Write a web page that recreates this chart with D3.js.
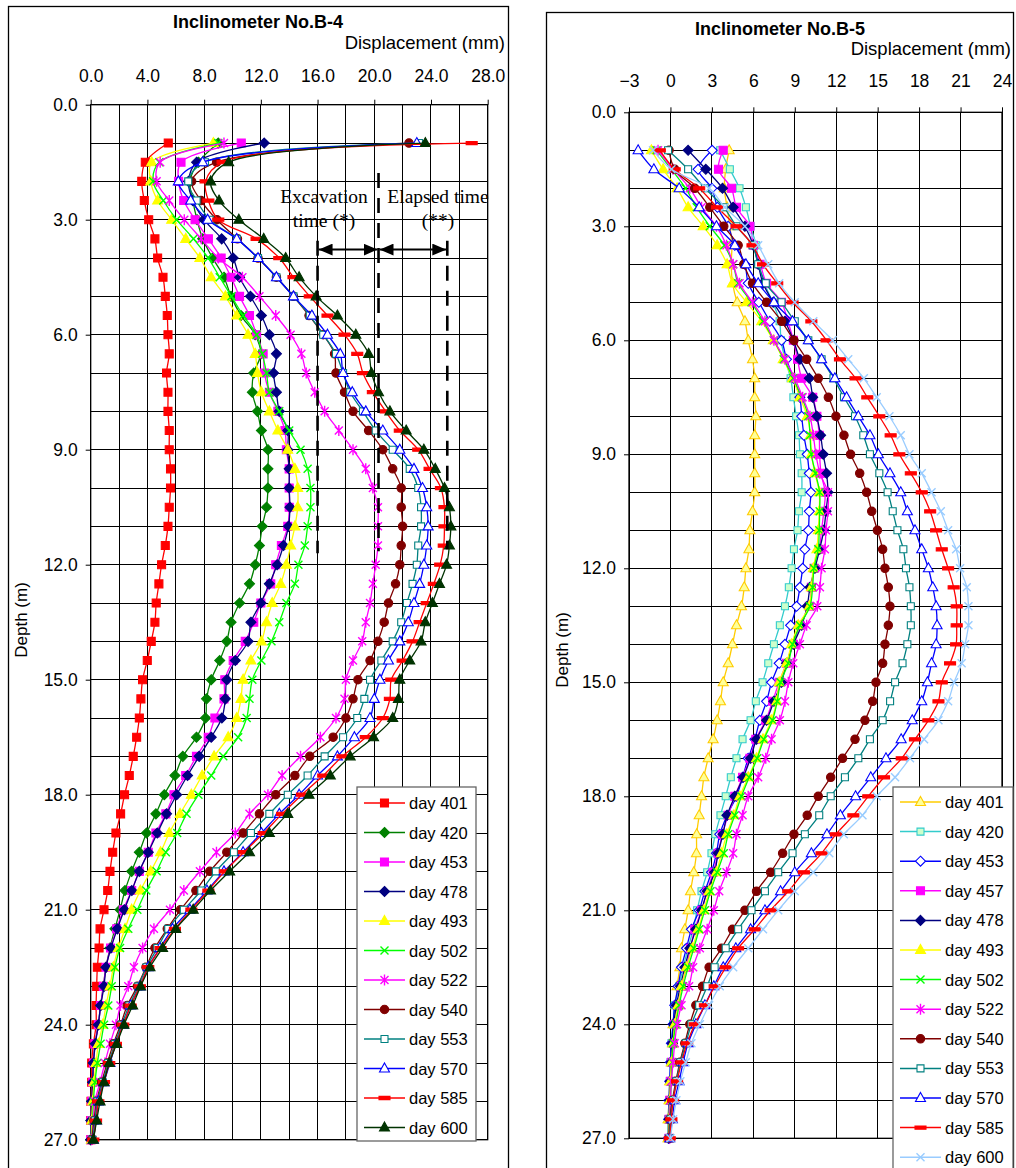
<!DOCTYPE html>
<html lang="en">
<head>
<meta charset="UTF-8">
<title>Inclinometer B-4 / B-5</title>
<script src="https://d3js.org/d3.v7.min.js"></script>
<style>
body{margin:0;background:#fff}
svg{display:block;font-family:"Liberation Sans",Arial,sans-serif}
.tick text{font-size:17.5px;fill:#000}
.tick line{stroke:#000}
.lg text{font-size:16.5px;fill:#000}
</style>
</head>
<body>
<script>
// depth of every reading (m)
var depths = [
  1,1.5,2,2.5,3,3.5,4,4.5,5,5.5,
  6,6.5,7,7.5,8,8.5,9,9.5,10,10.5,
  11,11.5,12,12.5,13,13.5,14,14.5,15,15.5,
  16,16.5,17,17.5,18,18.5,19,19.5,20,20.5,
  21,21.5,22,22.5,23,23.5,24,24.5,25,25.5,
  26,26.5,27];

// ── Inclinometer B-4 ──
var b4Days = ['day 401','day 420','day 453','day 478','day 493','day 502','day 522','day 540','day 553','day 570','day 585','day 600'];
var b4XTicks = [0,4,8,12,16,20,24,28];
var b4YTicks = [0,3,6,9,12,15,18,21,24,27];

var b4_401 = [5.47,3.85,3.6,3.78,4.09,4.53,4.72,5.1,5.26,5.4,
  5.45,5.54,5.35,5.45,5.45,5.54,5.54,5.63,5.63,5.54,
  5.45,5.26,5.0,4.81,4.62,4.53,4.27,3.99,3.66,3.54,
  3.43,3.24,3.0,2.72,2.39,2.11,1.78,1.55,1.36,1.2,
  0.94,0.66,0.59,0.47,0.42,0.38,0.38,0.19,0.07,0.07,
  0.02,0,0];
var b4_420 = [9.0,7.6,7.0,7.2,7.5,7.9,8.6,9.4,9.9,10.6,
  11.6,12.0,11.5,11.4,11.76,12.04,12.5,12.5,12.5,12.4,
  12.1,11.9,11.6,11.2,10.5,9.9,9.6,9.1,8.5,8.17,
  8.1,7.46,6.5,5.94,5.19,4.6,3.94,3.43,2.89,2.42,
  2.07,1.71,1.36,1.08,0.89,0.7,0.54,0.3,0.19,0.14,
  0.07,0.02,0];
var b4_453 = [10.62,6.37,6.2,6.56,7.36,8.3,9.2,9.9,10.5,11.2,
  11.7,12.16,12.25,12.6,13.2,13.7,13.8,14.0,14.0,14.0,
  13.9,13.45,13.05,12.7,12.0,11.5,10.9,10.05,9.46,9.4,
  8.76,8.29,7.46,6.7,5.87,5.3,4.6,4.06,3.43,2.89,
  2.3,1.83,1.4,1.08,0.89,0.7,0.54,0.3,0.19,0.14,
  0.07,0.02,0];
var b4_478 = [12.24,7.47,6.9,7.2,7.99,9.24,10.05,10.5,11.27,12.04,
  12.6,13.1,12.9,13.1,13.3,13.9,13.9,14.0,14.0,14.05,
  13.95,13.6,13.15,12.6,12.0,11.3,11.1,10.2,9.6,9.5,
  9.25,8.5,7.65,6.83,6.06,5.35,4.7,4.06,3.43,2.9,
  2.37,1.88,1.43,1.08,0.94,0.7,0.54,0.33,0.19,0.14,
  0.07,0.02,0];
var b4_493 = [8.65,4.3,4.23,4.72,5.71,6.7,7.7,8.5,9.5,10.3,
  11.1,11.6,11.76,12.04,12.6,13.2,13.9,14.4,14.6,14.6,
  14.4,14.1,13.8,13.4,12.8,12.4,12.04,11.3,10.75,10.6,
  10.3,9.7,8.7,7.86,7.1,6.3,5.54,4.93,4.23,3.5,
  2.89,2.42,1.95,1.6,1.36,1.08,0.85,0.54,0.38,0.23,
  0.14,0.07,0.05];
var b4_502 = [9.0,4.84,4.4,5.12,6.06,7.25,8.29,9.1,9.93,10.75,
  11.7,12.1,12.4,12.6,13.3,14.0,14.8,15.3,15.5,15.5,
  15.3,15.1,14.65,14.4,13.8,13.3,12.75,12.04,11.4,11.2,
  11.0,10.4,9.35,8.5,7.6,6.76,6.1,5.3,4.65,3.92,
  3.29,2.65,2.07,1.71,1.48,1.24,0.94,0.7,0.47,0.3,
  0.19,0.14,0.07];
var b4_522 = [9.4,4.9,4.65,5.54,6.6,7.8,9.0,10.7,11.9,13.05,
  14.1,14.86,15.2,15.8,16.5,17.5,18.5,19.4,19.9,20.26,
  20.26,20.26,20.1,19.9,19.7,19.4,19.15,18.5,18.0,17.9,
  17.3,16.2,14.8,13.5,12.5,11.2,10.2,8.87,7.7,6.57,
  5.59,4.46,3.66,3.05,2.65,2.1,1.78,1.36,1.0,0.66,
  0.3,0.19,0.07];
var b4_540 = [22.45,8.88,7.12,7.78,8.9,10.35,11.8,13.1,14.3,15.4,
  16.4,17.2,17.3,17.9,18.5,19.6,20.6,21.3,21.9,21.9,
  22.0,21.9,21.8,21.5,21.0,20.7,20.26,19.7,18.85,18.5,
  18.0,17.1,15.45,14.4,13.05,11.9,10.75,9.6,8.4,7.42,
  6.34,5.4,4.53,3.9,3.29,2.58,2.11,1.6,1.17,0.77,
  0.42,0.23,0.09];
var b4_553 = [23.15,8.06,6.88,7.47,8.4,10.3,11.8,13.1,14.3,15.45,
  16.4,17.3,17.8,18.3,19.2,20.1,21.3,22.5,23.1,23.3,
  23.3,23.1,23.0,22.7,22.3,21.9,21.3,20.5,19.7,19.3,
  18.8,17.8,16.5,15.3,13.9,12.6,11.3,10.1,8.83,7.8,
  6.57,5.47,4.7,3.94,3.36,2.72,2.18,1.71,1.24,0.85,
  0.47,0.3,0.14];
var b4_570 = [23.0,7.9,6.18,7.05,8.25,10.3,11.8,13.1,14.3,15.6,
  16.7,17.6,17.8,18.45,19.4,20.6,21.8,22.8,23.4,23.7,
  23.8,23.7,23.5,23.2,22.8,22.4,21.8,21.0,20.4,20.0,
  19.7,18.6,17.4,16.0,14.7,13.3,12.04,10.75,9.4,8.2,
  7.0,5.77,4.88,4.06,3.47,2.82,2.3,1.78,1.36,0.94,
  0.54,0.38,0.19];
var b4_585 = [26.87,9.3,8.1,8.3,9.0,11.7,13.3,14.3,15.45,16.7,
  17.9,18.8,19.2,19.9,20.8,21.8,23.1,23.9,24.7,24.95,
  24.95,24.9,24.65,24.2,23.7,23.2,22.7,22.0,21.2,21.1,
  20.6,19.4,17.75,16.4,14.9,13.5,12.2,10.8,9.46,8.3,
  7.1,5.94,4.93,4.06,3.47,2.82,2.3,1.78,1.31,0.94,
  0.54,0.38,0.19];
var b4_600 = [23.6,9.73,8.46,9.05,10.45,12.2,13.75,14.7,15.9,17.4,
  18.7,19.6,19.8,20.3,21.1,22.25,23.5,24.3,24.95,25.3,
  25.4,25.3,25.1,24.6,24.1,23.6,23.3,22.5,21.8,21.7,
  21.3,19.95,18.3,16.9,15.4,13.9,12.6,11.2,9.8,8.45,
  7.23,6.0,5.07,4.18,3.52,2.96,2.35,1.83,1.31,0.94,
  0.66,0.42,0.19];

// ── Inclinometer B-5 ──
var b5Days = ['day 401','day 420','day 453','day 457','day 478','day 493','day 502','day 522','day 540','day 553','day 570','day 585','day 600'];
var b5XTicks = [-3,0,3,6,9,12,15,18,21,24];
var b5YTicks = [0,3,6,9,12,15,18,21,24,27];

var b5_401 = [4.25,4.0,3.9,4.1,4.3,4.45,4.4,4.5,4.83,5.39,
  5.63,5.94,6.1,6.1,6.18,6.1,6.1,6.1,6.1,5.94,
  5.75,5.68,5.46,5.34,5.14,4.78,4.49,4.18,3.82,3.62,
  3.38,3.09,2.73,2.42,2.25,2.08,1.9,1.88,1.69,1.45,
  1.28,1.04,0.8,0.68,0.48,0.39,0.19,0.14,0.07,-0.05,
  -0.1,-0.17,-0.17];
var b5_420 = [3.6,4.3,5.0,5.46,5.8,6.2,6.4,6.8,7.4,7.9,
  8.0,8.3,8.7,8.9,9.1,9.3,9.37,9.5,9.5,9.3,
  9.2,8.94,8.77,8.57,8.29,7.92,7.49,7.08,6.67,6.18,
  5.8,5.22,4.78,4.37,4.0,3.62,3.25,2.97,2.66,2.25,
  1.93,1.64,1.28,0.92,0.63,0.31,0.19,0.07,0,-0.05,
  -0.1,-0.17,-0.17];
var b5_453 = [3.02,2.0,3.0,3.4,4.18,4.66,5.39,5.63,6.4,7.2,
  8.04,8.4,8.9,9.37,9.5,9.66,9.9,10.05,10.17,10.05,
  9.98,9.73,9.57,9.37,9.13,8.7,8.29,7.87,7.32,6.96,
  6.47,6.11,5.63,5.22,4.78,4.1,3.57,3.33,2.97,2.49,
  2.08,1.52,1.16,0.8,0.56,0.31,0.19,0.07,0,-0.05,
  -0.1,-0.12,-0.15];
var b5_457 = [3.82,3.48,4.42,4.78,5.75,6.0,6.5,6.96,8.04,8.5,
  8.9,9.2,9.5,10.3,10.6,10.77,10.8,10.9,11.2,11.1,
  10.94,10.77,10.4,10.2,10.05,9.37,8.9,8.4,7.87,7.39,
  6.9,6.18,5.75,5.22,4.66,4.18,3.75,3.45,3.09,2.66,
  2.25,1.76,1.45,1.16,0.8,0.56,0.31,0.19,0.07,0,
  -0.05,-0.1,-0.1];
var b5_478 = [1.28,2.56,3.77,4.54,5.39,6.0,6.35,6.7,7.44,8.29,
  8.9,9.37,10.05,10.3,10.6,10.87,11.06,11.3,11.4,11.26,
  11.1,10.8,10.46,10.1,9.9,9.5,8.9,8.4,8.04,7.49,
  6.96,6.23,5.8,5.27,4.66,4.1,3.8,3.45,3.2,2.66,
  2.25,1.84,1.4,1.04,0.72,0.43,0.24,0.14,0.07,0,
  -0.05,-0.1,-0.1];
var b5_493 = [-1.38,-0.53,0.48,1.28,2.37,3.38,4.1,4.49,5.5,6.6,
  7.44,8.16,8.84,9.37,9.9,10.14,10.2,10.46,10.77,10.77,
  10.7,10.6,10.34,10.2,10.05,9.25,8.77,8.4,7.87,7.7,
  7.3,6.7,6.23,5.63,5.02,4.59,4.08,3.7,3.33,2.8,
  2.42,2.0,1.59,1.16,0.8,0.56,0.31,0.19,0.07,0,
  -0.05,-0.1,-0.1];
var b5_502 = [-1.0,0.07,1.1,1.9,2.85,3.9,4.54,4.9,5.87,6.7,
  7.49,8.2,8.89,9.5,9.98,10.1,10.2,10.5,10.8,10.8,
  10.77,10.7,10.39,10.29,10.1,9.37,8.84,8.53,7.97,7.73,
  7.39,6.76,6.28,5.7,5.14,4.66,4.18,3.86,3.38,2.9,
  2.49,2.08,1.69,1.28,0.92,0.63,0.39,0.19,0.14,0.07,
  0,-0.05,-0.05];
var b5_522 = [-0.9,0.19,1.4,2.25,3.33,4.06,4.54,5.0,5.94,6.84,
  7.49,8.29,9.0,9.57,10.1,10.34,10.53,10.82,11.4,11.4,
  11.26,11.18,10.94,10.82,10.63,9.86,9.37,8.89,8.53,8.29,
  7.92,7.32,6.9,6.35,5.63,5.22,4.78,4.54,4.06,3.53,
  3.14,2.66,2.13,1.64,1.35,0.8,0.48,0.31,0.19,0.07,
  0,-0.05,-0.05];
var b5_540 = [-0.1,0.31,1.76,2.85,3.86,4.9,5.31,5.94,6.96,8.04,
  8.94,9.86,10.7,11.43,11.98,12.56,13.04,13.7,14.2,14.57,
  14.98,15.36,15.53,15.77,15.89,15.77,15.53,15.36,14.88,14.64,
  14.08,13.36,12.46,11.6,10.7,9.9,8.94,8.12,7.25,6.23,
  5.39,4.49,3.7,2.8,2.32,1.84,1.4,1.04,0.68,0.39,
  0.14,-0.05,-0.1];
var b5_553 = [-0.17,1.28,2.5,3.86,4.78,5.94,6.35,6.9,8.04,9.0,
  9.98,10.94,11.8,12.56,13.36,13.96,14.44,15.12,15.72,16.09,
  16.43,16.86,17.05,17.3,17.4,17.4,17.15,16.8,16.26,15.9,
  15.36,14.44,13.6,12.63,11.6,10.77,9.73,8.84,7.8,6.84,
  5.87,4.9,4.0,3.2,2.66,2.08,1.52,1.11,0.72,0.43,
  0.19,0,-0.05];
var b5_570 = [-2.34,-1.2,0.63,2.08,3.33,4.66,5.46,6.35,7.49,8.84,
  9.98,10.94,11.9,12.75,13.6,14.44,15.05,15.89,16.67,17.15,
  17.7,18.19,18.67,18.99,19.23,19.3,19.23,18.9,18.6,18.19,
  17.5,16.7,15.6,14.5,13.4,12.3,11.33,10.2,9.0,7.97,
  6.84,5.8,4.73,3.82,3.14,2.49,1.84,1.28,0.92,0.63,
  0.31,0.14,-0.05];
var b5_585 = [-0.77,0.31,2.08,3.38,4.78,5.94,6.7,7.73,8.84,10.2,
  11.3,12.27,13.4,14.25,15.12,15.94,16.57,17.4,18.19,18.8,
  19.23,19.64,20.1,20.5,20.72,20.72,20.68,20.24,19.64,19.4,
  18.67,17.7,16.74,15.46,14.32,13.24,11.98,10.94,9.66,8.53,
  7.25,6.1,4.9,4.0,3.2,2.49,1.76,1.21,0.8,0.48,
  0.19,0.07,-0.05];
var b5_600 = [-1.26,0.07,2.8,3.94,5.39,6.35,7.08,7.87,9.0,10.34,
  11.74,12.87,14.0,14.93,15.85,16.67,17.3,18.19,18.9,19.57,
  20.1,20.68,20.97,21.45,21.57,21.57,21.33,21.08,20.53,20.1,
  19.4,18.36,17.34,16.26,14.93,13.9,12.55,11.5,10.34,9.0,
  7.8,6.7,5.63,4.54,3.57,2.8,2.13,1.52,1.11,0.72,
  0.43,0.19,0];

// annotation on B-4 (displacement mm / depth m)
var excavLine = [16, 20.3];
var elapsedLine = [20.3, 25.15];

// ── styles ──
var b4Styles = [
  {c:'#ff0000', m:'square',   f:'#ff0000'},
  {c:'#008000', m:'diamond',  f:'#008000'},
  {c:'#ff00ff', m:'square',   f:'#ff00ff'},
  {c:'#000080', m:'diamond',  f:'#000080'},
  {c:'#ffff00', m:'triangle', f:'#ffff00'},
  {c:'#00ff00', m:'x'},
  {c:'#ff00ff', m:'star'},
  {c:'#800000', m:'circle',   f:'#800000'},
  {c:'#008080', m:'osquare',  f:'#fff'},
  {c:'#0000ff', m:'triangle', f:'#fff'},
  {c:'#ff0000', m:'dash',     f:'#ff0000'},
  {c:'#003300', m:'triangle', f:'#003300'}
];
var b5Styles = [
  {c:'#ffcc00', m:'triangle', f:'#ffff99'},
  {c:'#33cccc', m:'osquare',  f:'#ccffcc'},
  {c:'#0000ff', m:'diamond',  f:'#fff'},
  {c:'#ff00ff', m:'square',   f:'#ff00ff'},
  {c:'#000080', m:'diamond',  f:'#000080'},
  {c:'#ffff00', m:'triangle', f:'#ffff00'},
  {c:'#00ff00', m:'x'},
  {c:'#ff00ff', m:'star'},
  {c:'#800000', m:'circle',   f:'#800000'},
  {c:'#008080', m:'osquare',  f:'#fff'},
  {c:'#0000ff', m:'triangle', f:'#fff'},
  {c:'#ff0000', m:'dash',     f:'#ff0000'},
  {c:'#99ccff', m:'x'}
];

var SHAPES = {
  square:   'M-4,-4H4V4H-4Z',
  osquare:  'M-3.5,-3.5H3.5V3.5H-3.5Z',
  diamond:  'M0,-5L5,0L0,5L-5,0Z',
  triangle: 'M0,-5.5L5,3.5L-5,3.5Z',
  circle:   'M4.2,0A4.2,4.2 0 1,1 -4.2,0A4.2,4.2 0 1,1 4.2,0Z',
  x:        'M-4,-4L4,4M-4,4L4,-4',
  star:     'M-4,-4L4,4M-4,4L4,-4M0,-5.5L0,5.5',
  dash:     'M-5.5,-1.6H5.5V1.6H-5.5Z'
};

function drawMarker(sel, st) {
  var open = (st.m === 'x' || st.m === 'star');
  sel.append('path')
    .attr('d', SHAPES[st.m])
    .attr('fill', open ? 'none' : st.f)
    .attr('stroke', st.c)
    .attr('stroke-width', open ? 1.4 : 1.1);
}

var svg = d3.select('body').append('svg').attr('width', 1016).attr('height', 1168);
svg.append('rect').attr('width', 1016).attr('height', 1168).attr('fill', '#fff');

function drawPanel(p) {
  var g = svg.append('g');
  var x = d3.scaleLinear().domain(p.xDomain).range(p.xRange);
  var y = d3.scaleLinear().domain([0, 27]).range(p.yRange);

  // outer chart frame
  g.append('rect').attr('x', p.frame[0]).attr('y', p.frame[1])
    .attr('width', p.frame[2]).attr('height', p.frame[3])
    .attr('fill', 'none').attr('stroke', '#000').attr('stroke-width', 1.3);

  // grid
  var grid = g.append('g').attr('stroke', '#000').attr('stroke-width', 1).attr('shape-rendering', 'crispEdges');
  grid.selectAll('.gx').data(d3.range(p.xDomain[0], p.xDomain[1] + 0.001, p.xGrid)).join('line')
    .attr('x1', function(d) { return x(d); }).attr('x2', function(d) { return x(d); })
    .attr('y1', y(0)).attr('y2', y(27));
  grid.selectAll('.gy').data(d3.range(0, 27.001, 1)).join('line')
    .attr('x1', x(p.xDomain[0])).attr('x2', x(p.xDomain[1]))
    .attr('y1', function(d) { return y(d); }).attr('y2', function(d) { return y(d); });
  g.append('rect').attr('x', x(p.xDomain[0])).attr('y', y(0))
    .attr('width', x(p.xDomain[1]) - x(p.xDomain[0])).attr('height', y(27) - y(0))
    .attr('fill', 'none').attr('stroke', '#000').attr('stroke-width', 1.3);

  // axes
  var ax = g.append('g').attr('transform', 'translate(0,' + y(0) + ')')
    .call(d3.axisTop(x).tickValues(p.xTicks).tickSize(5).tickPadding(p.xPad).tickFormat(p.xFmt));
  ax.select('.domain').remove();
  var ay = g.append('g').attr('transform', 'translate(' + x(p.xDomain[0]) + ',0)')
    .call(d3.axisLeft(y).tickValues(p.yTicks).tickSize(5).tickPadding(8).tickFormat(d3.format('.1f')));
  ay.select('.domain').remove();
  g.selectAll('.tick text').attr('font-family', null);

  // titles
  g.append('text').attr('x', p.title[0]).attr('y', p.title[1]).attr('text-anchor', 'middle')
    .attr('font-size', 18).attr('font-weight', 'bold').text(p.titleText);
  g.append('text').attr('x', p.xLabel[0]).attr('y', p.xLabel[1]).attr('text-anchor', 'end')
    .attr('font-size', 18.5).text('Displacement (mm)');
  g.append('text').attr('transform', 'translate(' + p.yLabel[0] + ',' + p.yLabel[1] + ') rotate(-90)')
    .attr('text-anchor', 'middle').attr('font-size', 17).text('Depth (m)');

  // series
  var line = d3.line().curve(d3.curveCatmullRom)
    .x(function(d) { return x(d[0]); }).y(function(d) { return y(d[1]); });
  p.series.forEach(function(vals, i) {
    var st = p.styles[i];
    var pts = vals.map(function(v, j) { return [v, depths[j]]; });
    var sg = g.append('g');
    sg.append('path').attr('d', line(pts)).attr('fill', 'none')
      .attr('stroke', st.c).attr('stroke-width', 1.3);
    sg.selectAll('g').data(pts).join('g')
      .attr('transform', function(d) { return 'translate(' + x(d[0]) + ',' + y(d[1]) + ')'; })
      .each(function() { drawMarker(d3.select(this), st); });
  });

  if (p.annotate) p.annotate(g, x, y);

  // legend
  var lg = g.append('g').attr('class', 'lg');
  lg.append('rect').attr('x', p.legend[0]).attr('y', p.legend[1])
    .attr('width', p.legend[2]).attr('height', p.legend[3])
    .attr('fill', '#fff').attr('stroke', '#666').attr('stroke-width', 1.3);
  p.names.forEach(function(name, i) {
    var st = p.styles[i];
    var ly = p.legendRow0 + i * p.legendStep;
    var lx = p.legend[0] + 7;
    lg.append('line').attr('x1', lx).attr('x2', lx + 41).attr('y1', ly).attr('y2', ly)
      .attr('stroke', st.c).attr('stroke-width', 1.5);
    drawMarker(lg.append('g').attr('transform', 'translate(' + (lx + 20.5) + ',' + ly + ')'), st);
    lg.append('text').attr('x', lx + 45).attr('y', ly + 6).text(name);
  });
}

// B-4 annotation: dashed limits and double arrows
function annotateB4(g, x, y) {
  var defs = svg.append('defs');
  defs.append('marker').attr('id', 'ah').attr('viewBox', '0 0 14 12')
    .attr('refX', 14).attr('refY', 6).attr('markerWidth', 14).attr('markerHeight', 12)
    .attr('markerUnits', 'userSpaceOnUse').attr('orient', 'auto-start-reverse')
    .append('path').attr('d', 'M0,0L14,6L0,12Z').attr('fill', '#000');

  var a = g.append('g').attr('stroke', '#000').attr('stroke-width', 2.6).attr('stroke-dasharray', '15,10');
  a.append('line').attr('x1', x(excavLine[0])).attr('x2', x(excavLine[0])).attr('y1', y(3.55)).attr('y2', y(11.7));
  a.append('line').attr('x1', x(excavLine[1])).attr('x2', x(excavLine[1])).attr('y1', y(1.78)).attr('y2', y(11.65));
  a.append('line').attr('x1', x(elapsedLine[1])).attr('x2', x(elapsedLine[1])).attr('y1', y(3.55)).attr('y2', y(11.6));

  var ay = y(3.78);
  g.append('line').attr('x1', x(excavLine[0]) + 1).attr('x2', x(excavLine[1]) - 1).attr('y1', ay).attr('y2', ay)
    .attr('stroke', '#000').attr('stroke-width', 2)
    .attr('marker-start', 'url(#ah)').attr('marker-end', 'url(#ah)');
  g.append('line').attr('x1', x(elapsedLine[0]) + 1).attr('x2', x(elapsedLine[1]) - 1).attr('y1', ay).attr('y2', ay)
    .attr('stroke', '#000').attr('stroke-width', 2)
    .attr('marker-start', 'url(#ah)').attr('marker-end', 'url(#ah)');

  var t = g.append('g').attr('font-family', '"Liberation Serif","Times New Roman",serif')
    .attr('font-size', 19.5).attr('text-anchor', 'middle');
  t.append('text').attr('x', 324).attr('y', 203).text('Excavation');
  t.append('text').attr('x', 324).attr('y', 227).text('time (*)');
  t.append('text').attr('x', 438).attr('y', 203).text('Elapsed time');
  t.append('text').attr('x', 438).attr('y', 227).text('(**)');
}

drawPanel({
  titleText: 'Inclinometer No.B-4', title: [258, 28], xLabel: [505, 49], yLabel: [27, 620],
  frame: [8.5, 6.5, 500, 1200],
  xDomain: [0, 28], xRange: [90.7, 487.7], yRange: [104.7, 1139.7], xGrid: 2,
  xTicks: b4XTicks, yTicks: b4YTicks, xPad: 17.5, xFmt: d3.format('.1f'),
  series: [b4_401, b4_420, b4_453, b4_478, b4_493, b4_502, b4_522, b4_540, b4_553, b4_570, b4_585, b4_600],
  styles: b4Styles, names: b4Days,
  legend: [357, 787, 119, 354], legendRow0: 803, legendStep: 29.5,
  annotate: annotateB4
});

drawPanel({
  titleText: 'Inclinometer No.B-5', title: [780, 35], xLabel: [1011, 55], yLabel: [568, 650],
  frame: [546.5, 12.5, 467, 1200],
  xDomain: [-3, 24], xRange: [629, 1002], yRange: [112.3, 1138.3], xGrid: 3,
  xTicks: b5XTicks, yTicks: b5YTicks, xPad: 20, xFmt: d3.format('d'),
  series: [b5_401, b5_420, b5_453, b5_457, b5_478, b5_493, b5_502, b5_522, b5_540, b5_553, b5_570, b5_585, b5_600],
  styles: b5Styles, names: b5Days,
  legend: [893, 787, 120, 420], legendRow0: 802, legendStep: 29.6
});
</script>
</body>
</html>
